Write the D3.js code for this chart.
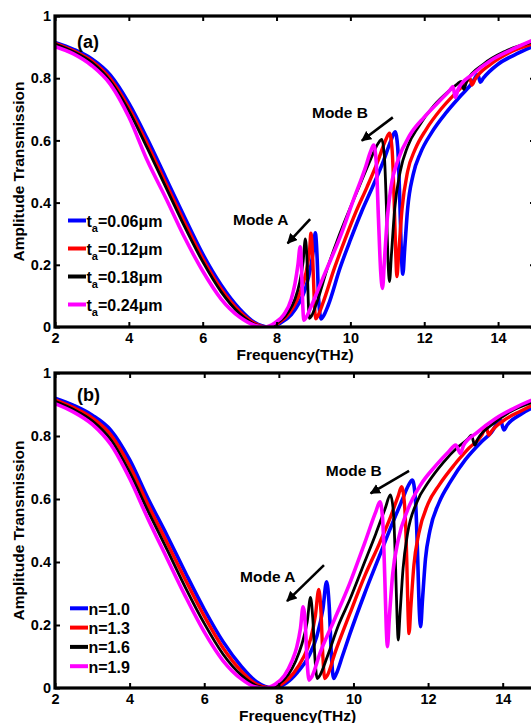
<!DOCTYPE html>
<html>
<head>
<meta charset="utf-8">
<script src="https://cdn.jsdelivr.net/npm/d3@7"></script>
<style>
  body { margin: 0; background: #fff; }
  svg { display: block; font-family: "Liberation Sans", Arial, Helvetica, sans-serif; font-weight: bold; }
</style>
</head>
<body>
<svg id="chart" width="531" height="723"></svg>
<script>
// ---- data: [frequency (THz), amplitude transmission] ----
const xTicks = [2, 4, 6, 8, 10, 12, 14]
const yTicks = [0, 0.2, 0.4, 0.6, 0.8, 1]
const colors = ['#0000ff', '#ff0000', '#000000', '#ff00ff']
const thicknessLabels = ['0.06', '0.12', '0.18', '0.24']
const indexLabels = ['1.0', '1.3', '1.6', '1.9']

// panel (a): thickness t_a
const aBlue = [[2,0.915],[2.5,0.893],[3,0.862],[3.5,0.81],[4,0.72],[4.5,0.605],[5,0.48],[5.5,0.355],[6,0.235],[6.5,0.135],[7,0.058],[7.4,0.015],[7.8,0],
  [8.1,0.012],[8.4,0.04],[8.6,0.075],[8.8,0.13],[8.92,0.19],[9,0.25],[9.05,0.303],[9.1,0.22],[9.14,0.09],[9.21,0.026],[9.27,0.035],
  [9.4,0.07],[9.72,0.19],[10,0.28],[10.3,0.37],[10.6,0.45],[10.9,0.535],[11.1,0.6],[11.21,0.628],[11.28,0.58],[11.34,0.4],[11.38,0.24],[11.42,0.17],
  [11.47,0.25],[11.55,0.38],[11.7,0.49],[11.9,0.56],[12.2,0.625],[12.6,0.69],[13,0.745],[13.3,0.785],[13.45,0.812],[13.52,0.787],[13.6,0.8],[14,0.845],[14.5,0.878],[15,0.905]]
const aRed = [[2,0.912],[2.5,0.888],[3,0.855],[3.5,0.798],[4,0.705],[4.5,0.588],[5,0.462],[5.5,0.338],[6,0.22],[6.5,0.122],[7,0.05],[7.4,0.012],[7.75,0],
  [8.05,0.013],[8.35,0.045],[8.55,0.085],[8.72,0.14],[8.84,0.2],[8.9,0.255],[8.93,0.302],[8.98,0.22],[9.02,0.09],[9.06,0.026],[9.12,0.036],
  [9.25,0.075],[9.57,0.19],[9.85,0.28],[10.15,0.37],[10.45,0.45],[10.75,0.535],[10.95,0.6],[11.06,0.623],[11.13,0.57],[11.19,0.39],[11.23,0.23],[11.26,0.162],
  [11.31,0.24],[11.4,0.38],[11.55,0.5],[11.75,0.57],[12.05,0.635],[12.45,0.7],[12.85,0.752],[13.1,0.782],[13.24,0.8],[13.29,0.778],[13.38,0.797],[13.8,0.845],[14.3,0.882],[15,0.912]]
const aBlack = [[2,0.91],[2.5,0.885],[3,0.85],[3.5,0.79],[4,0.695],[4.5,0.575],[5,0.45],[5.5,0.325],[6,0.21],[6.5,0.113],[7,0.043],[7.4,0.009],[7.72,0],
  [8,0.012],[8.3,0.045],[8.5,0.09],[8.62,0.14],[8.72,0.21],[8.78,0.283],[8.83,0.2],[8.86,0.08],[8.89,0.028],[8.95,0.036],
  [9.08,0.075],[9.38,0.19],[9.65,0.28],[9.95,0.37],[10.25,0.455],[10.55,0.54],[10.75,0.59],[10.85,0.603],[10.92,0.55],[10.98,0.37],[11.02,0.21],[11.06,0.146],
  [11.11,0.23],[11.2,0.38],[11.35,0.5],[11.55,0.58],[11.85,0.645],[12.25,0.71],[12.7,0.762],[12.9,0.782],[13,0.79],[13.07,0.764],[13.15,0.79],[13.6,0.845],[14.2,0.887],[15,0.918]]
const aMagenta = [[2,0.902],[2.5,0.878],[3,0.84],[3.5,0.78],[4,0.675],[4.5,0.535],[5,0.415],[5.5,0.29],[6,0.18],[6.5,0.09],[7,0.032],[7.4,0.006],[7.68,0],
  [7.95,0.013],[8.2,0.04],[8.4,0.09],[8.5,0.14],[8.58,0.2],[8.64,0.258],[8.68,0.18],[8.71,0.07],[8.74,0.022],[8.8,0.03],
  [8.95,0.07],[9.3,0.17],[9.72,0.289],[10.08,0.408],[10.4,0.51],[10.55,0.565],[10.63,0.585],[10.7,0.53],[10.76,0.35],[10.82,0.18],[10.87,0.124],
  [10.92,0.21],[11,0.35],[11.1,0.45],[11.3,0.54],[11.6,0.615],[12,0.675],[12.4,0.725],[12.7,0.762],[12.78,0.773],[12.84,0.738],[12.92,0.765],[13.3,0.812],[13.8,0.857],[14.3,0.888],[15,0.925]]

// panel (b): refractive index n
const bBlue = [[2,0.92],[2.5,0.897],[3,0.866],[3.5,0.818],[4,0.725],[4.5,0.6],[5,0.485],[5.5,0.365],[6,0.25],[6.5,0.148],[7,0.068],[7.4,0.02],[7.85,0],
  [8.2,0.016],[8.5,0.05],[8.8,0.1],[9.02,0.165],[9.18,0.25],[9.28,0.337],[9.35,0.26],[9.41,0.1],[9.47,0.03],[9.54,0.045],
  [9.7,0.1],[9.9,0.17],[10.3,0.3],[10.7,0.42],[11,0.51],[11.3,0.595],[11.48,0.645],[11.58,0.66],[11.66,0.6],[11.72,0.42],[11.76,0.26],[11.8,0.195],
  [11.85,0.28],[11.93,0.41],[12.05,0.5],[12.3,0.59],[12.6,0.655],[13,0.725],[13.4,0.778],[13.7,0.812],[13.94,0.851],[14.03,0.819],[14.12,0.835],[14.5,0.87],[15,0.9]]
const bRed = [[2,0.915],[2.5,0.89],[3,0.857],[3.5,0.803],[4,0.705],[4.5,0.58],[5,0.462],[5.5,0.342],[6,0.228],[6.5,0.128],[7,0.053],[7.4,0.012],[7.78,0],
  [8.1,0.014],[8.4,0.048],[8.65,0.095],[8.85,0.155],[8.98,0.23],[9.07,0.313],[9.13,0.24],[9.18,0.1],[9.23,0.03],[9.3,0.04],
  [9.5,0.11],[9.9,0.235],[10.3,0.355],[10.7,0.46],[11,0.545],[11.2,0.61],[11.29,0.639],[11.37,0.58],[11.43,0.4],[11.46,0.25],[11.49,0.173],
  [11.54,0.26],[11.62,0.39],[11.75,0.49],[12,0.585],[12.3,0.645],[12.7,0.708],[13.1,0.762],[13.45,0.805],[13.55,0.83],[13.63,0.803],[13.7,0.815],[14.1,0.855],[14.5,0.88],[15,0.91]]
const bBlack = [[2,0.91],[2.5,0.884],[3,0.848],[3.5,0.788],[4,0.685],[4.5,0.56],[5,0.44],[5.5,0.318],[6,0.205],[6.5,0.108],[7,0.04],[7.4,0.007],[7.7,0],
  [8,0.013],[8.25,0.042],[8.45,0.085],[8.62,0.14],[8.76,0.21],[8.85,0.288],[8.91,0.22],[8.97,0.09],[9.03,0.03],[9.1,0.04],
  [9.3,0.1],[9.6,0.2],[9.9,0.28],[10.3,0.4],[10.6,0.49],[10.85,0.57],[10.99,0.613],[11.07,0.56],[11.13,0.38],[11.17,0.22],[11.2,0.152],
  [11.25,0.24],[11.33,0.38],[11.45,0.49],[11.7,0.59],[12,0.652],[12.4,0.715],[12.8,0.765],[13.08,0.792],[13.16,0.803],[13.25,0.771],[13.33,0.79],[13.7,0.835],[14.2,0.877],[15,0.915]]
const bMagenta = [[2,0.903],[2.5,0.876],[3,0.837],[3.5,0.772],[4,0.665],[4.5,0.535],[5,0.412],[5.5,0.29],[6,0.178],[6.5,0.087],[7,0.028],[7.35,0.004],[7.62,0],
  [7.9,0.012],[8.15,0.04],[8.35,0.085],[8.48,0.13],[8.58,0.19],[8.65,0.258],[8.71,0.2],[8.76,0.08],[8.81,0.025],[8.88,0.035],
  [9.1,0.11],[9.5,0.22],[9.9,0.332],[10.3,0.46],[10.6,0.56],[10.71,0.591],[10.78,0.54],[10.84,0.35],[10.88,0.19],[10.91,0.131],
  [10.96,0.22],[11.05,0.36],[11.2,0.47],[11.45,0.565],[11.8,0.645],[12.2,0.705],[12.55,0.75],[12.74,0.771],[12.87,0.745],[12.95,0.77],[13.3,0.81],[13.8,0.855],[14.3,0.888],[15,0.925]]

// ---- layout ----
const svg = d3.select('#chart')

const panels = [
  { tag: '(a)', series: [aBlue, aRed, aBlack, aMagenta], legend: thicknessLabels, sub: true,
    left: 55, right: 535, top: 16, bottom: 327,
    legendX: 68, legendY: 220.5, legendStep: 28,
    notes: [
      { text: 'Mode A', at: [6.82, 0.328], from: [8.91, 0.347], to: [8.30, 0.269] },
      { text: 'Mode B', at: [8.96, 0.672], from: [11.15, 0.674], to: [10.31, 0.599] }
    ] },
  { tag: '(b)', series: [bBlue, bRed, bBlack, bMagenta], legend: indexLabels, sub: false,
    left: 55, right: 540, top: 373, bottom: 688,
    legendX: 70, legendY: 608.3, legendStep: 19.3,
    notes: [
      { text: 'Mode A', at: [6.96, 0.337], from: [9.21, 0.39], to: [8.22, 0.276] },
      { text: 'Mode B', at: [9.26, 0.673], from: [11.49, 0.689], to: [10.46, 0.618] }
    ] }
]

const widths = [3.6, 3.4, 2.8, 3.6]

svg.append('defs').append('marker')
  .attr('id', 'head')
  .attr('viewBox', '0 0 10 10')
  .attr('refX', 9).attr('refY', 5)
  .attr('markerWidth', 4).attr('markerHeight', 4)
  .attr('markerUnits', 'strokeWidth')
  .attr('orient', 'auto')
  .append('path')
    .attr('d', 'M0,0 L10,5 L0,10 Z')
    .style('fill', '#000')

panels.forEach((p, i) => {
  const x = d3.scaleLinear().domain([2, 15]).range([p.left, p.right])
  const y = d3.scaleLinear().domain([0, 1]).range([p.bottom, p.top])

  const clipId = 'clip' + i
  svg.append('clipPath').attr('id', clipId)
    .append('rect')
      .attr('x', p.left).attr('y', p.top - 2)
      .attr('width', p.right - p.left).attr('height', p.bottom - p.top + 2)

  // curves
  const line = d3.line()
    .x(d => x(d[0]))
    .y(d => y(d[1]))
    .curve(d3.curveMonotoneX)

  svg.append('g')
    .attr('clip-path', `url(#${clipId})`)
    .selectAll('path')
    .data(p.series)
    .enter()
    .append('path')
      .attr('d', line)
      .style('fill', 'none')
      .style('stroke', (d, k) => colors[k])
      .style('stroke-width', (d, k) => widths[k])
      .style('stroke-linejoin', 'round')

  // axes, ticks inward
  const fmt = d => d3.format('~g')(d)
  const styleAxis = g => {
    g.select('.domain').remove()
    g.selectAll('line').style('stroke', '#000').style('stroke-width', 2)
    g.selectAll('text').style('font-size', '14.5px').style('font-weight', 'bold').style('fill', '#000')
      .style('font-family', '"Liberation Sans", Arial, sans-serif')
  }

  svg.append('g')
    .attr('transform', `translate(0, ${p.bottom})`)
    .call(d3.axisBottom(x).tickValues(xTicks).tickSize(-5).tickPadding(6).tickFormat(fmt))
    .call(styleAxis)

  svg.append('g')
    .attr('transform', `translate(0, ${p.top})`)
    .call(d3.axisTop(x).tickValues(xTicks).tickSize(-5).tickFormat(''))
    .call(styleAxis)

  svg.append('g')
    .attr('transform', `translate(${p.left}, 0)`)
    .call(d3.axisLeft(y).tickValues(yTicks).tickSize(-5).tickPadding(4).tickFormat(fmt))
    .call(styleAxis)

  svg.append('g')
    .attr('transform', `translate(${p.right}, 0)`)
    .call(d3.axisRight(y).tickValues(yTicks).tickSize(-5).tickFormat(''))
    .call(styleAxis)

  // frame
  svg.append('rect')
    .attr('x', p.left).attr('y', p.top)
    .attr('width', p.right - p.left).attr('height', p.bottom - p.top)
    .style('fill', 'none')
    .style('stroke', '#000')
    .style('stroke-width', 3.2)

  // axis titles
  svg.append('text')
    .attr('x', (p.left + p.right) / 2)
    .attr('y', p.bottom + 32.5)
    .attr('text-anchor', 'middle')
    .style('font-size', '15.5px')
    .text('Frequency(THz)')

  svg.append('text')
    .attr('transform', `translate(24, ${(p.top + p.bottom) / 2}) rotate(-90)`)
    .attr('text-anchor', 'middle')
    .style('font-size', '15.5px')
    .text('Amplitude Transmission')

  // panel tag
  svg.append('text')
    .attr('x', p.left + 22)
    .attr('y', p.top + 32 + (i ? -4 : 0))
    .style('font-size', '18px')
    .text(p.tag)

  // mode annotations
  p.notes.forEach(n => {
    svg.append('text')
      .attr('x', x(n.at[0]))
      .attr('y', y(n.at[1]))
      .style('font-size', '15.5px')
      .text(n.text)

    svg.append('line')
      .attr('x1', x(n.from[0])).attr('y1', y(n.from[1]))
      .attr('x2', x(n.to[0])).attr('y2', y(n.to[1]))
      .style('stroke', '#000')
      .style('stroke-width', 2.6)
      .attr('marker-end', 'url(#head)')
  })

  // legend
  const leg = svg.append('g')
  p.legend.forEach((lab, k) => {
    const ly = p.legendY + k * p.legendStep
    leg.append('line')
      .attr('x1', p.legendX).attr('x2', p.legendX + 18)
      .attr('y1', ly).attr('y2', ly)
      .style('stroke', colors[k])
      .style('stroke-width', 4)

    const t = leg.append('text')
      .attr('x', p.legendX + 18.5)
      .attr('y', ly + 6.5)
      .style('font-size', '16px')
    if (p.sub) {
      t.append('tspan').text('t')
      t.append('tspan').attr('dy', 5).style('font-size', '11px').text('a')
      t.append('tspan').attr('dy', -5).text(`=${lab}\u03bcm`)
    } else {
      t.text(`n=${lab}`)
    }
  })
})
</script>
</body>
</html>
